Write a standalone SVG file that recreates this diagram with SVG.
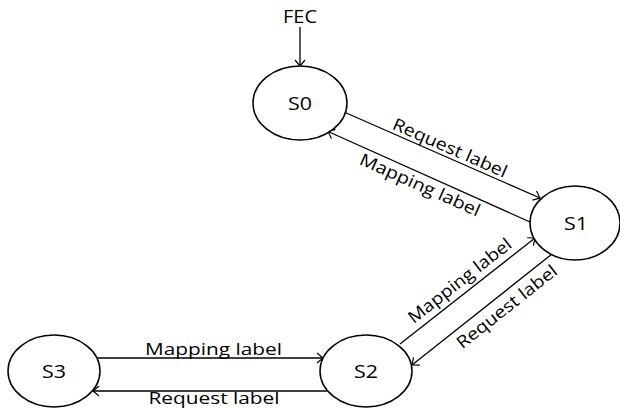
<svg xmlns="http://www.w3.org/2000/svg" width="620" height="409" viewBox="0 0 620 409">
  <style>
    .node { fill: #ffffff; stroke: #000000; stroke-width: 1.5; }
    .nlabel { font-family: "Open Sans", "Liberation Sans", sans-serif; font-size: 19px; fill: #000000; text-anchor: middle; }
    .elabel { font-family: "Open Sans", "Liberation Sans", sans-serif; font-size: 17px; fill: #000000; text-anchor: middle; }
    .edge { fill: none; stroke: #000000; stroke-width: 1.3; marker-end: url(#arr); }
  </style>
  <defs>
    <marker id="arr" viewBox="-8 -6 9 12" refX="0" refY="0" markerWidth="9" markerHeight="12" markerUnits="userSpaceOnUse" orient="auto" overflow="visible">
      <path d="M-6,-5 L0,0 L-6,5" fill="none" stroke="#000000" stroke-width="1.2"/>
    </marker>
  </defs>
  <rect x="0" y="0" width="620" height="409" fill="#ffffff"/>

  <g id="connectors">
    <g id="edge-fec-s0">
      <line class="edge" x1="300" y1="27" x2="300" y2="66"/>
      <text class="elabel" x="300" y="23" style="font-size:18px" textLength="34" lengthAdjust="spacingAndGlyphs">FEC</text>
    </g>
    <g id="edge-s0-s1">
      <line class="edge" x1="344" y1="112" x2="540" y2="198"/>
      <text class="elabel" transform="translate(446,156.8) rotate(23.7)" x="0" y="-4" textLength="123" lengthAdjust="spacingAndGlyphs">Request label</text>
    </g>
    <g id="edge-s1-s0">
      <line class="edge" x1="530" y1="222" x2="328" y2="131.5"/>
      <text class="elabel" transform="translate(424.6,174.8) rotate(24.1)" x="0" y="17" textLength="130" lengthAdjust="spacingAndGlyphs">Mapping label</text>
    </g>
    <g id="edge-s2-s1">
      <line class="edge" x1="400" y1="344" x2="535" y2="238"/>
      <text class="elabel" transform="translate(467.7,290.9) rotate(-38.1)" x="0" y="-7" textLength="126" lengthAdjust="spacingAndGlyphs">Mapping label</text>
    </g>
    <g id="edge-s1-s2">
      <line class="edge" x1="552" y1="254" x2="412" y2="365"/>
      <text class="elabel" transform="translate(498.6,296.4) rotate(-38.4)" x="0" y="19" textLength="123" lengthAdjust="spacingAndGlyphs">Request label</text>
    </g>
    <g id="edge-s3-s2">
      <line class="edge" x1="97" y1="358" x2="323" y2="358"/>
      <text class="elabel" x="213.5" y="355" textLength="137" lengthAdjust="spacingAndGlyphs">Mapping label</text>
    </g>
    <g id="edge-s2-s3">
      <line class="edge" x1="327" y1="391" x2="93" y2="391"/>
      <text class="elabel" x="214" y="404" textLength="131" lengthAdjust="spacingAndGlyphs">Request label</text>
    </g>
  </g>

  <g id="S0">
    <ellipse class="node" cx="300" cy="103" rx="47" ry="37"/>
    <text class="nlabel" x="300" y="110" textLength="24" lengthAdjust="spacingAndGlyphs">S0</text>
  </g>
  <g id="S1">
    <ellipse class="node" cx="575" cy="223" rx="45" ry="37"/>
    <text class="nlabel" x="576" y="229.5" textLength="24" lengthAdjust="spacingAndGlyphs">S1</text>
  </g>
  <g id="S2">
    <ellipse class="node" cx="366" cy="371" rx="46" ry="36"/>
    <text class="nlabel" x="366" y="377.5" textLength="24" lengthAdjust="spacingAndGlyphs">S2</text>
  </g>
  <g id="S3">
    <ellipse class="node" cx="54" cy="371" rx="46" ry="36"/>
    <text class="nlabel" x="54" y="377.5" textLength="24" lengthAdjust="spacingAndGlyphs">S3</text>
  </g>
</svg>
